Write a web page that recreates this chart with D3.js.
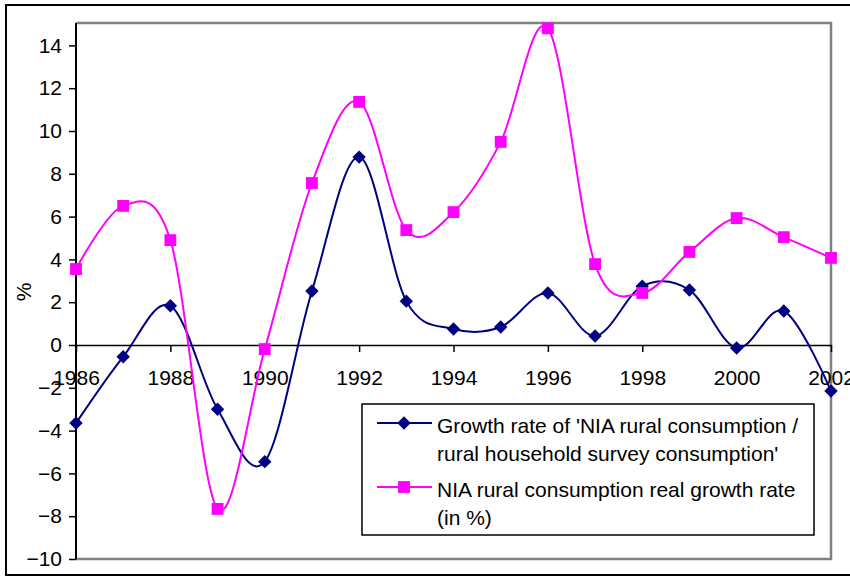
<!DOCTYPE html>
<html>
<head>
<meta charset="utf-8">
<script src="https://cdn.jsdelivr.net/npm/d3@7"></script>
<style>
  body { margin: 0; background: #fff; }
  text { font-family: "Liberation Sans", Arial, sans-serif; }
</style>
</head>
<body>
<div class="chart"></div>
<script>
var width = 850,
    height = 577;

// data
var years = [1986, 1987, 1988, 1989, 1990, 1991, 1992, 1993, 1994,
             1995, 1996, 1997, 1998, 1999, 2000, 2001, 2002];
var ratioGrowth = [-3.65, -0.55, 1.83, -3.0, -5.45, 2.52, 8.78, 2.05, 0.75,
                   0.84, 2.43, 0.42, 2.75, 2.57, -0.14, 1.59, -2.15];
var niaGrowth = [3.55, 6.5, 4.9, -7.66, -0.19, 7.57, 11.36, 5.37, 6.21,
                 9.49, 14.8, 3.78, 2.43, 4.35, 5.93, 5.04, 4.07];
var xTicks = [1986, 1988, 1990, 1992, 1994, 1996, 1998, 2000, 2002];
var yTicks = [-10, -8, -6, -4, -2, 0, 2, 4, 6, 8, 10, 12, 14];
var legendLabels = [
    ["Growth rate of 'NIA rural consumption /", "rural household survey consumption'"],
    ["NIA rural consumption real growth rate", "(in %)"]
];

var plotLeft = 76, plotRight = 831, plotTop = 23, plotBottom = 559;
var fontSize = "21px";

var svg = d3.select(".chart").append("svg")
    .attr("width", width)
    .attr("height", height);

// outer frame
svg.append("rect")
    .attr("x", 6).attr("y", 5)
    .attr("width", 860).attr("height", 570)
    .style("fill", "none")
    .style("stroke", "#000")
    .style("stroke-width", 2);

var x = d3.scaleLinear().domain([1986, 2002]).range([plotLeft, plotRight]);
var y = d3.scaleLinear().domain([-10, 15]).range([plotBottom, plotTop + 1]);

// plot area border (grey, top/right/bottom)
svg.append("path")
    .attr("d", `M${plotLeft},${plotTop}H${plotRight}V${plotBottom}H${plotLeft}`)
    .style("fill", "none")
    .style("stroke", "#808080")
    .style("stroke-width", 2.5);

// y axis
var yAxis = svg.append("g")
    .attr("transform", `translate(${plotLeft},0)`)
    .call(d3.axisLeft(y).tickValues(yTicks).tickSize(7).tickPadding(7).tickSizeOuter(0));
yAxis.select(".domain").attr("d", `M0,${plotBottom}V${plotTop}`).style("stroke-width", 2);
yAxis.selectAll(".tick line").style("stroke-width", 1.5);
yAxis.selectAll("text").style("font-size", fontSize).style("fill", "#000")
    .attr("font-family", null);

// x axis along zero
var xAxis = svg.append("g")
    .attr("transform", `translate(0,${y(0)})`)
    .call(d3.axisBottom(x).tickValues(xTicks).tickFormat(d3.format("d"))
        .tickSize(7).tickPadding(18).tickSizeOuter(0));
xAxis.select(".domain").style("stroke-width", 1.5);
xAxis.selectAll(".tick line").style("stroke-width", 1.5);
xAxis.selectAll("text").style("font-size", fontSize).style("fill", "#000")
    .attr("font-family", null);

// y label
svg.append("text")
    .attr("transform", "translate(31,292) rotate(-90)")
    .attr("text-anchor", "middle")
    .style("font-size", fontSize)
    .text("%");

var line = d3.line()
    .x((d, i) => x(years[i]))
    .y(d => y(d))
    .curve(d3.curveCatmullRom.alpha(0));

var series = [
    { values: ratioGrowth, color: "#000080", symbol: d3.symbolDiamond2, size: 115 },
    { values: niaGrowth, color: "#FF00FF", symbol: d3.symbolSquare, size: 140 }
];

series.forEach(function (s) {
    svg.append("path")
        .datum(s.values)
        .attr("d", line)
        .style("fill", "none")
        .style("stroke", s.color)
        .style("stroke-width", 2);

    svg.selectAll(null)
        .data(s.values)
        .enter()
        .append("path")
        .attr("transform", (d, i) => `translate(${x(years[i])},${y(d)})`)
        .attr("d", d3.symbol().type(s.symbol).size(s.size))
        .style("fill", s.color);
});

// legend
var legend = svg.append("g");
legend.append("rect")
    .attr("x", 362).attr("y", 404)
    .attr("width", 452).attr("height", 131)
    .style("fill", "#fff")
    .style("stroke", "#000")
    .style("stroke-width", 1.5);

series.forEach(function (s, k) {
    var ly = 423 + k * 64;
    legend.append("line")
        .attr("x1", 377).attr("x2", 432)
        .attr("y1", ly).attr("y2", ly)
        .style("stroke", s.color)
        .style("stroke-width", 2);
    legend.append("path")
        .attr("transform", `translate(404,${ly})`)
        .attr("d", d3.symbol().type(s.symbol).size(s.size))
        .style("fill", s.color);
    legendLabels[k].forEach(function (t, j) {
        legend.append("text")
            .attr("x", 437)
            .attr("y", ly + 10 + j * 28)
            .style("font-size", fontSize)
            .text(t);
    });
});
</script>
</body>
</html>
